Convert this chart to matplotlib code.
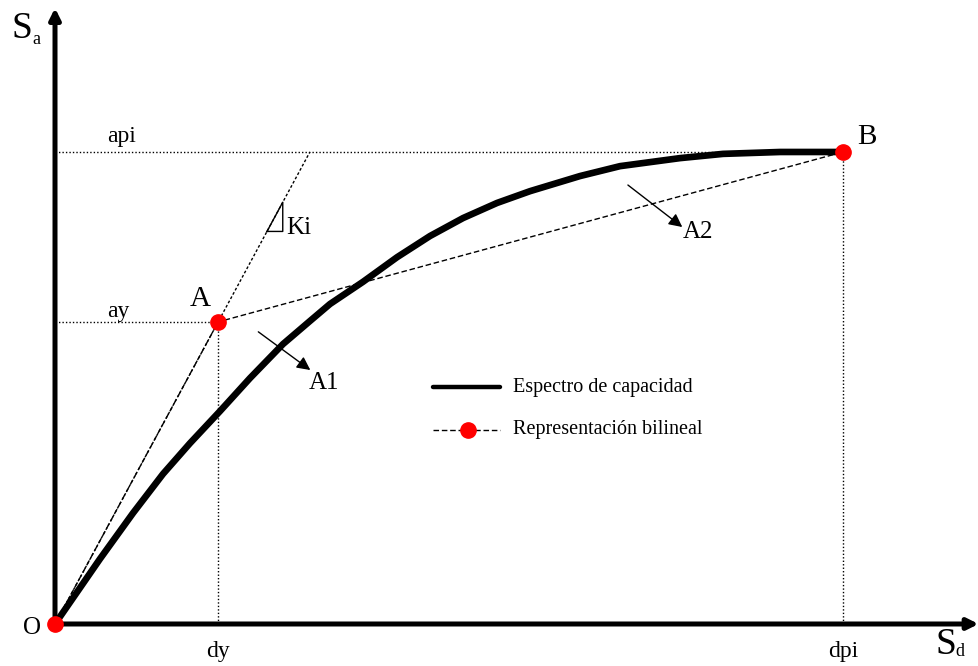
import numpy as np
import matplotlib.pyplot as plt

# capacity spectrum (Sd, Sa), dpi = 10, api = 1
curve_sd = [0, 0.571, 0.990, 1.371, 1.713, 2.094, 2.475, 2.893, 3.236, 3.490, 3.909,
            4.340, 4.759, 5.178, 5.609, 6.028, 6.662, 7.170, 7.931, 8.477, 9.201, 10.0]
curve_sa = [0, 0.138, 0.235, 0.318, 0.383, 0.451, 0.521, 0.593, 0.642, 0.678, 0.725,
            0.777, 0.822, 0.860, 0.892, 0.917, 0.949, 0.970, 0.987, 0.996, 1.0, 1.0]

# bilinear points O, A, B
bil_sd = [0, 2.07, 10.0]
bil_sa = [0, 0.64, 1.0]
dy, ay = bil_sd[1], bil_sa[1]
dpi_, api = bil_sd[2], bil_sa[2]

serif = 'Liberation Serif'

fig = plt.figure(figsize=(9.79, 6.66), dpi=100)
ax = fig.add_axes([0, 0, 1, 1])
ax.set_xlim(-0.698, 11.725)
ax.set_ylim(-0.089, 1.322)
ax.axis('off')

# axes with arrows
ax.annotate('', xy=(0, 1.305), xytext=(0, -0.004),
            arrowprops=dict(arrowstyle='-|>', lw=3.6, color='k', mutation_scale=16, shrinkA=0, shrinkB=0))
ax.annotate('', xy=(11.72, 0), xytext=(-0.03, 0),
            arrowprops=dict(arrowstyle='-|>', lw=3.6, color='k', mutation_scale=16, shrinkA=0, shrinkB=0))

# dotted guide lines
dot = dict(color='k', lw=1, linestyle=(0, (1, 1.5)))
ax.plot([0, dpi_], [api, api], **dot)
ax.plot([0, dy], [ay, ay], **dot)
ax.plot([dy, dy], [0, ay], **dot)
ax.plot([dpi_, dpi_], [0, api], **dot)

# initial stiffness line Ki
slope = ay / dy
ax.plot([0, api / slope], [0, api], color='k', lw=1, linestyle=(0, (2, 1.5)))
tx = [2.69, 2.89, 2.89, 2.69]
ty = [slope * 2.69, slope * 2.69, slope * 2.89, slope * 2.69]
ax.plot(tx, ty, color='k', lw=1)

# capacity curve
ax.plot(curve_sd, curve_sa, color='k', lw=4.8, solid_capstyle='round',
        solid_joinstyle='round', zorder=3)

# bilinear representation
ax.plot(bil_sd, bil_sa, color='k', lw=1, linestyle=(0, (4, 2)), zorder=4)
ax.plot(bil_sd, bil_sa, linestyle='none', marker='o', ms=11, color='red', zorder=5)

# area arrows
ax.annotate('', xy=(3.24, 0.538), xytext=(2.58, 0.619),
            arrowprops=dict(arrowstyle='-|>', lw=1, color='k', mutation_scale=20, shrinkA=0, shrinkB=0))
ax.annotate('', xy=(7.96, 0.841), xytext=(7.27, 0.930),
            arrowprops=dict(arrowstyle='-|>', lw=1, color='k', mutation_scale=20, shrinkA=0, shrinkB=0))

# labels
ax.text(0.85, 1.032, 'api', family=serif, fontsize=17, ha='center', va='center')
ax.text(0.80, 0.661, 'ay', family=serif, fontsize=17, ha='center', va='center')
ax.text(1.84, 0.688, 'A', family=serif, fontsize=21, ha='center', va='center')
ax.text(10.30, 1.032, 'B', family=serif, fontsize=21, ha='center', va='center')
ax.text(2.93, 0.839, 'Ki', family=serif, fontsize=18, ha='left', va='center')
ax.text(3.22, 0.511, 'A1', family=serif, fontsize=18, ha='left', va='center')
ax.text(7.97, 0.83, 'A2', family=serif, fontsize=18, ha='left', va='center')
ax.text(-0.29, -0.008, 'O', family=serif, fontsize=18, ha='center', va='center')
ax.text(dy, -0.059, 'dy', family=serif, fontsize=17, ha='center', va='center')
ax.text(dpi_, -0.059, 'dpi', family=serif, fontsize=17, ha='center', va='center')
ax.text(-0.419, 1.261, 'S', family=serif, fontsize=27, ha='center', va='center')
ax.text(-0.235, 1.239, 'a', family=serif, fontsize=13, ha='center', va='center')
ax.text(11.307, -0.0445, 'S', family=serif, fontsize=27, ha='center', va='center')
ax.text(11.48, -0.0593, 'd', family=serif, fontsize=13, ha='center', va='center')

# legend drawn by hand
ax.plot([4.80, 5.65], [0.502, 0.502], color='k', lw=3.2, solid_capstyle='round')
ax.text(5.81, 0.502, 'Espectro de capacidad', family=serif, fontsize=14.5, ha='left', va='center')
ax.plot([4.80, 5.65], [0.411, 0.411], color='k', lw=1, linestyle=(0, (4, 2)))
ax.plot([5.24], [0.411], marker='o', ms=11, color='red')
ax.text(5.81, 0.411, 'Representación bilineal', family=serif, fontsize=14.5, ha='left', va='center')

plt.savefig('out.png', dpi=100)
